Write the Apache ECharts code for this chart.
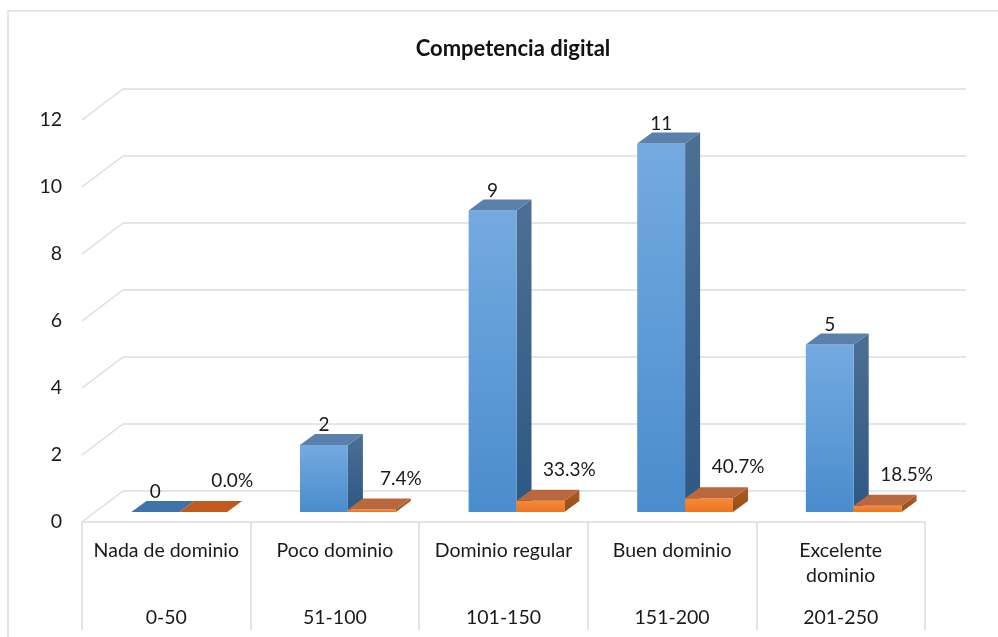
<!DOCTYPE html>
<html>
<head>
<meta charset="utf-8">
<script src="https://cdn.jsdelivr.net/npm/echarts@6/dist/echarts.min.js"></script>
<style>
html,body{margin:0;padding:0;background:#fff;}
#chart{width:998px;height:637px;}
</style>
</head>
<body>
<div id="chart"></div>
<script>
const titleText = 'Competencia digital';
const categories = ['Nada de dominio', 'Poco dominio', 'Dominio regular', 'Buen dominio', 'Excelente\ndominio'];
const ranges = ['0-50', '51-100', '101-150', '151-200', '201-250'];
const counts = [0, 2, 9, 11, 5];
const shares = [0.0, 0.074, 0.333, 0.407, 0.185];
const yTicks = [0, 2, 4, 6, 8, 10, 12];

const FONT = 'Lato';
const FS = 19.5;
const GRID_LINE = '#d9dde4';
// 3D geometry (pixels)
const WALL_DX = 41, WALL_DY = -31;
const FRONT_DX = 13, FRONT_DY = -10;
const BAR_DX = 15, BAR_DY = -11;

const palettes = [
  { frontTop: '#74aae0', frontBot: '#4a8ccd', top: '#5a80ab', topZero: '#3f72a6', sideTop: '#4d6f94', sideBot: '#2d5883' },
  { frontTop: '#f48a3a', frontBot: '#ec7520', top: '#b8683c', topZero: '#c05a1e', sideTop: '#ad5c26', sideBot: '#9a4b12' }
];

function barRenderer(s) {
  return function (params, api) {
    const i = api.value(0), v = api.value(1);
    const top = api.coord([i, v]);
    const base = api.coord([i, 0]);
    const band = api.size([1, 0])[0];
    const w = band * 0.284;
    const left = top[0] + (s === 0 ? -w : 0) + FRONT_DX;
    const right = left + w;
    const yTop = top[1] + FRONT_DY;
    const yBot = base[1] + FRONT_DY;
    const pal = palettes[s];
    const h = yBot - yTop;
    const children = [];
    if (h > 0.2) {
      children.push({
        type: 'polygon',
        shape: { points: [[right, yTop], [right + BAR_DX, yTop + BAR_DY], [right + BAR_DX, yBot + BAR_DY], [right, yBot]] },
        style: { fill: new echarts.graphic.LinearGradient(0, 0, 0, 1, [{ offset: 0, color: pal.sideTop }, { offset: 1, color: pal.sideBot }]) }
      });
      children.push({
        type: 'rect',
        shape: { x: left, y: yTop, width: w, height: h },
        style: { fill: new echarts.graphic.LinearGradient(0, 0, 0, 1, [{ offset: 0, color: pal.frontTop }, { offset: 1, color: pal.frontBot }]) }
      });
    }
    children.push({
      type: 'polygon',
      shape: { points: [[left, yTop], [right, yTop], [right + BAR_DX, yTop + BAR_DY], [left + BAR_DX, yTop + BAR_DY]] },
      style: { fill: h > 0.2 ? pal.top : pal.topZero }
    });
    const labelText = s === 0 ? String(v) : (v * 100).toFixed(1) + '%';
    children.push({
      type: 'text',
      style: {
        text: labelText,
        x: left + w / 2 + (s === 0 ? 0 : 29),
        y: yTop - (s === 0 ? 20 : 31),
        align: 'center',
        verticalAlign: 'middle',
        fontFamily: FONT,
        fontSize: 19,
        fill: '#1a1a1a'
      }
    });
    return { type: 'group', children: children };
  };
}

const chart = echarts.init(document.getElementById('chart'), null, { renderer: 'canvas' });
chart.setOption({
  backgroundColor: '#ffffff',
  animation: false,
  title: {
    text: titleText,
    left: 508,
    top: 33,
    textAlign: 'center',
    textStyle: { fontFamily: FONT, fontWeight: 'bold', fontSize: 22, color: '#111' }
  },
  graphic: [{
    type: 'rect',
    shape: { x: 8, y: 11, width: 1010, height: 650 },
    style: { fill: 'none', stroke: GRID_LINE, lineWidth: 1.5 },
    silent: true, z: -10
  }],
  grid: [
    { left: 82, right: 73, top: 120, bottom: 115 },
    { left: 82 + WALL_DX, right: 73 - WALL_DX, top: 120 + WALL_DY, bottom: 115 - WALL_DY }
  ],
  xAxis: [
    {
      type: 'category', gridIndex: 0, data: categories, position: 'bottom',
      axisLine: { show: true, lineStyle: { color: GRID_LINE, width: 1.5 } },
      axisTick: { show: true, length: 108, lineStyle: { color: GRID_LINE, width: 1.5 } },
      axisLabel: { margin: 16, fontFamily: FONT, fontSize: FS, color: '#1a1a1a', lineHeight: 25, verticalAlign: 'top', interval: 0 }
    },
    {
      type: 'category', gridIndex: 0, data: ranges, position: 'bottom',
      axisLine: { show: false }, axisTick: { show: false },
      axisLabel: { margin: 85, fontFamily: FONT, fontSize: FS, color: '#1a1a1a', lineHeight: 22, verticalAlign: 'top', interval: 0 }
    },
    { type: 'category', gridIndex: 1, data: categories, show: false }
  ],
  yAxis: [
    {
      type: 'value', gridIndex: 0, min: 0, max: 12, interval: 2,
      axisLine: { show: false }, axisTick: { show: false }, splitLine: { show: false },
      axisLabel: { margin: 20, fontFamily: FONT, fontSize: FS, color: '#1a1a1a', padding: [6, 0, 0, 0] }
    },
    {
      type: 'value', gridIndex: 1, min: 0, max: 12, interval: 2,
      axisLine: { show: false }, axisTick: { show: false }, axisLabel: { show: false },
      splitLine: { show: true, lineStyle: { color: GRID_LINE, width: 1.5 } }
    }
  ],
  series: [
    {
      type: 'custom', xAxisIndex: 0, yAxisIndex: 0, silent: true, z: 1,
      data: yTicks.map(t => [0, t]),
      renderItem: function (params, api) {
        const p = api.coord([0, api.value(1)]);
        const x0 = params.coordSys.x;
        return {
          type: 'line',
          shape: { x1: x0, y1: p[1], x2: x0 + WALL_DX, y2: p[1] + WALL_DY },
          style: { stroke: GRID_LINE, lineWidth: 1.5 }
        };
      }
    },
    {
      name: 'Frecuencia', type: 'custom', xAxisIndex: 0, yAxisIndex: 0, z: 3,
      data: counts.map((v, i) => [i, v]),
      renderItem: barRenderer(0)
    },
    {
      name: 'Porcentaje', type: 'custom', xAxisIndex: 0, yAxisIndex: 0, z: 4,
      data: shares.map((v, i) => [i, v]),
      renderItem: barRenderer(1)
    }
  ]
});
</script>
</body>
</html>
